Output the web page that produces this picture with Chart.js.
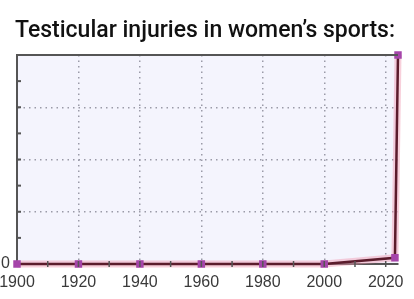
<!DOCTYPE html>
<html>
<head>
<meta charset="utf-8">
<script src="https://cdn.jsdelivr.net/npm/chart.js@4.4.0/dist/chart.umd.min.js"></script>
<style>
  html, body { margin: 0; padding: 0; background: #fff; }
  #wrap { width: 414px; height: 299px; }
</style>
</head>
<body>
<div id="wrap"><canvas id="injuryChart"></canvas></div>
<script>
const years = [1900, 1920, 1940, 1960, 1980, 2000, 2023, 2024];
const injuries = [0, 0, 0, 0, 0, 0, 3, 100];
const xTickValues = [1900, 1910, 1920, 1930, 1940, 1950, 1960, 1970, 1980, 1990, 2000, 2010, 2020];
const titleText = 'Testicular injuries in women’s sports:';

// light lavender fill behind the plot, the title, and the small tick marks crossing the axes
const plotDecor = {
    id: 'plotDecor',
    beforeDraw(chart) {
        const a = chart.chartArea;
        const ctx = chart.ctx;
        ctx.save();
        ctx.fillStyle = '#f4f4fd';
        ctx.fillRect(a.left, a.top, a.right - a.left, a.bottom - a.top);
        ctx.restore();
    },
    afterDraw(chart) {
        const a = chart.chartArea;
        const ctx = chart.ctx;
        const x = chart.scales.x;
        const y = chart.scales.y;
        ctx.save();
        ctx.fillStyle = '#111';
        ctx.font = '500 23px Roboto';
        ctx.textAlign = 'center';
        ctx.textBaseline = 'alphabetic';
        ctx.fillText(titleText, 205, 37);

        ctx.strokeStyle = '#555';
        ctx.lineWidth = 2;
        // top frame
        ctx.beginPath();
        ctx.moveTo(a.left - 1, a.top);
        ctx.lineTo(a.right, a.top);
        ctx.stroke();
        // y tick marks
        y.ticks.forEach(t => {
            if (t.value === 0) return;
            const py = y.getPixelForValue(t.value);
            ctx.beginPath();
            ctx.moveTo(a.left - 1, py);
            ctx.lineTo(a.left + 4, py);
            ctx.stroke();
        });
        // x tick marks
        ctx.lineWidth = 1.5;
        x.ticks.forEach(t => {
            if (t.value === 1900) return;
            const px = x.getPixelForValue(t.value);
            ctx.beginPath();
            ctx.moveTo(px, a.bottom - 3);
            ctx.lineTo(px, a.bottom + 3);
            ctx.stroke();
        });
        ctx.restore();
    }
};

const ctx = document.getElementById('injuryChart').getContext('2d');
new Chart(ctx, {
    type: 'line',
    data: {
        datasets: [{
            data: years.map((yr, i) => ({ x: yr, y: injuries[i] })),
            borderColor: '#5b1c2c',
            borderWidth: 2.5,
            pointStyle: 'rect',
            pointRadius: 3.5,
            pointBackgroundColor: '#a545aa',
            pointBorderColor: '#a545aa',
            tension: 0,
            clip: 6
        }, {
            data: years.map((yr, i) => ({ x: yr, y: injuries[i] })),
            borderColor: 'rgba(240, 150, 175, 0.45)',
            borderWidth: 7,
            pointRadius: 0,
            tension: 0,
            clip: 6
        }]
    },
    options: {
        responsive: true,
        maintainAspectRatio: false,
        animation: false,
        layout: { padding: { left: 0, right: 16, top: 55, bottom: 0 } },
        plugins: {
            legend: { display: false },
            tooltip: { enabled: false },
            title: { display: false }
        },
        scales: {
            x: {
                type: 'linear',
                min: 1900,
                max: 2024,
                afterBuildTicks: s => { s.ticks = xTickValues.map(v => ({ value: v })); },
                afterFit: s => { s.height = 35; s.paddingLeft = 0; s.paddingRight = 0; },
                ticks: {
                    autoSkip: false,
                    maxRotation: 0,
                    padding: 9,
                    color: '#3a3a3a',
                    font: { family: 'Liberation Sans', size: 16 },
                    callback: v => (v % 20 === 0 ? String(v) : '')
                },
                grid: {
                    drawTicks: false,
                    lineWidth: 1.5,
                    color: c => (c.tick && c.tick.value % 20 === 0 && c.tick.value !== 1900) ? '#9a9aa8' : 'transparent'
                },
                border: { display: true, color: '#555', width: 2, dash: [1.5, 4] }
            },
            y: {
                min: 0,
                max: 100,
                afterFit: s => { s.width = 17; },
                ticks: {
                    stepSize: 12.5,
                    padding: 7,
                    color: '#3a3a3a',
                    font: { family: 'Liberation Sans', size: 16 },
                    callback: v => (v === 0 ? '0' : '')
                },
                grid: {
                    drawTicks: false,
                    lineWidth: 1.5,
                    color: c => (c.tick && c.tick.value > 0 && c.tick.value < 100 && c.tick.value % 25 === 0) ? '#9a9aa8' : 'transparent'
                },
                border: { display: true, color: '#555', width: 2, dash: [1.5, 4] }
            }
        }
    },
    plugins: [plotDecor]
});
</script>
</body>
</html>
